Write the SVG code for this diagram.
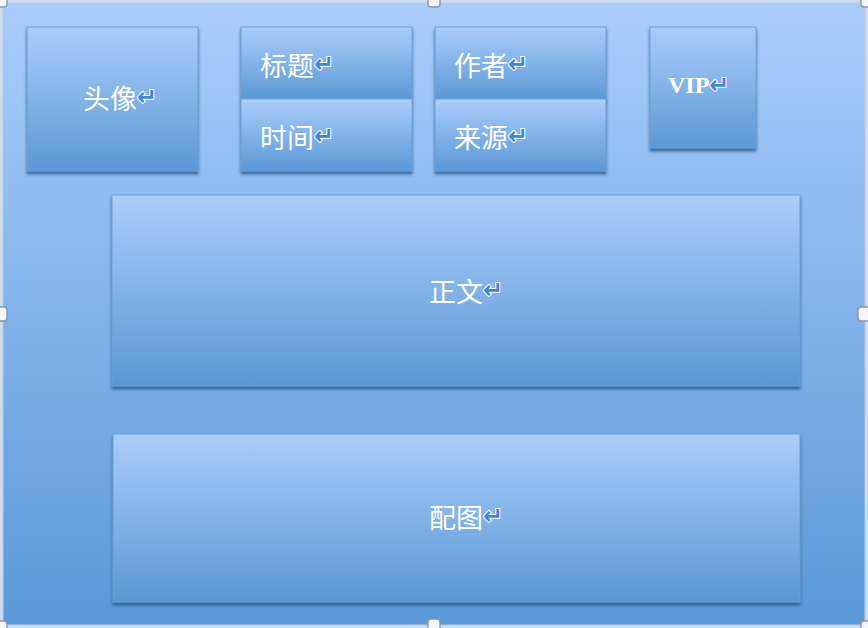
<svg xmlns="http://www.w3.org/2000/svg" width="868" height="628" viewBox="0 0 868 628">
  <defs>
    <linearGradient id="gOuter" x1="0" y1="0" x2="0" y2="1">
      <stop offset="0" stop-color="#aacdfb"/>
      <stop offset="1" stop-color="#5a99d9"/>
    </linearGradient>
    <linearGradient id="gBox" x1="0" y1="0" x2="0" y2="1">
      <stop offset="0" stop-color="#abcdf9"/>
      <stop offset="1" stop-color="#5a98d6"/>
    </linearGradient>
    <filter id="shadow" x="-5%" y="-5%" width="110%" height="115%">
      <feDropShadow dx="0" dy="3" stdDeviation="1.6" flood-color="#24548a" flood-opacity="0.8"/>
    </filter>
  </defs>
  <style>
    .box { fill: url(#gBox); stroke: #6f9fd4; stroke-width: 1; filter: url(#shadow); }
    .lbl { font-family: "Noto Sans CJK SC", "Liberation Serif", serif; font-size: 27px; fill: #ffffff; dominant-baseline: central; }
    .latin { font-family: "Liberation Serif", "Noto Sans CJK SC", serif; font-size: 24px; font-weight: bold; fill: #ffffff; dominant-baseline: central; }
    .ret { font-family: "DejaVu Sans", sans-serif; font-size: 24px; font-weight: bold; fill: #3f86d8; stroke: #ffffff; stroke-width: 2px; paint-order: stroke; }
    .handle { fill: #f4f6fa; stroke: #8a97ad; stroke-width: 1.4; }
  </style>

  <g id="canvas">
    <rect x="0" y="0" width="868" height="628" fill="#d0dcec"/>
    <rect x="3" y="3" width="862" height="622" fill="url(#gOuter)" stroke="#b8cbe4" stroke-width="1"/>
  </g>

  <g id="node-avatar">
    <rect class="box" x="27" y="27" width="171" height="144"/>
    <text class="lbl" x="83" y="97">头像<tspan class="ret">↵</tspan></text>
  </g>

  <g id="node-title">
    <rect class="box" x="241" y="27" width="171" height="72"/>
    <text class="lbl" x="260" y="64">标题<tspan class="ret">↵</tspan></text>
  </g>

  <g id="node-time">
    <rect class="box" x="241" y="99" width="171" height="72"/>
    <text class="lbl" x="260" y="136">时间<tspan class="ret">↵</tspan></text>
  </g>

  <g id="node-author">
    <rect class="box" x="435" y="27" width="171" height="72"/>
    <text class="lbl" x="454" y="64">作者<tspan class="ret">↵</tspan></text>
  </g>

  <g id="node-source">
    <rect class="box" x="435" y="99" width="171" height="72"/>
    <text class="lbl" x="454" y="136">来源<tspan class="ret">↵</tspan></text>
  </g>

  <g id="node-vip">
    <rect class="box" x="650" y="27" width="106" height="121"/>
    <text class="latin" x="668" y="85">VIP<tspan class="ret">↵</tspan></text>
  </g>

  <g id="node-body">
    <rect class="box" x="112" y="195" width="688" height="191"/>
    <text class="lbl" x="429" y="290">正文<tspan class="ret">↵</tspan></text>
  </g>

  <g id="node-image">
    <rect class="box" x="113" y="434" width="687" height="168"/>
    <text class="lbl" x="429" y="516">配图<tspan class="ret">↵</tspan></text>
  </g>

  <g id="connectors"/>

  <g id="handles">
    <rect class="handle" x="-5" y="-5" width="12" height="12" rx="3"/>
    <rect class="handle" x="428" y="-5" width="12" height="12" rx="3"/>
    <rect class="handle" x="861" y="-5" width="12" height="12" rx="3"/>
    <rect class="handle" x="-5" y="307" width="12" height="14" rx="3"/>
    <rect class="handle" x="858" y="307" width="12" height="14" rx="3"/>
    <rect class="handle" x="-5" y="621" width="12" height="12" rx="3"/>
    <rect class="handle" x="428" y="619" width="12" height="14" rx="3"/>
    <rect class="handle" x="861" y="621" width="12" height="12" rx="3"/>
  </g>
</svg>
